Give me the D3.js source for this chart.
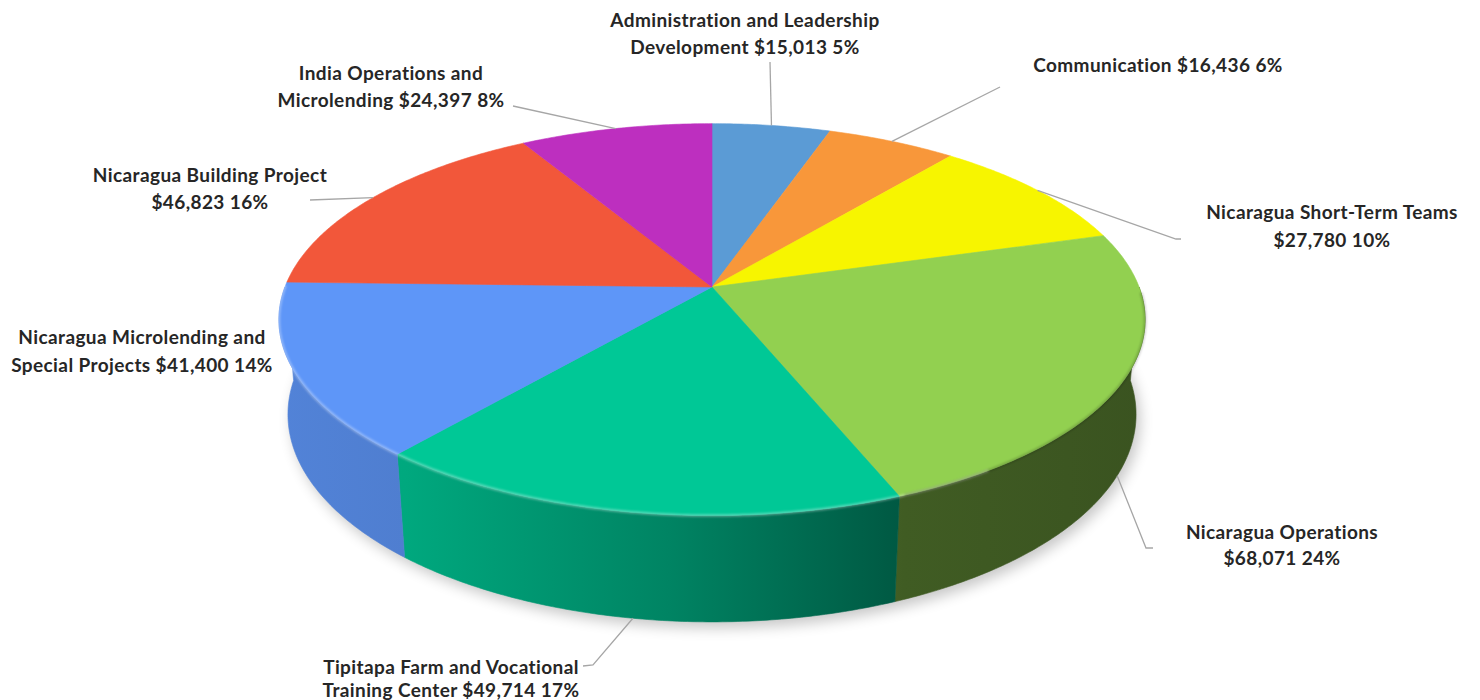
<!DOCTYPE html>
<html>
<head>
<meta charset="utf-8">
<script src="https://cdn.jsdelivr.net/npm/d3@7"></script>
<style>
  html, body { margin: 0; padding: 0; background: #ffffff; }
  svg { display: block; }
</style>
</head>
<body>
<svg id="chart" width="1480" height="700"></svg>
<script>
// ---------------- DATA ----------------
const categories = [
  "Administration and Leadership Development",
  "Communication",
  "Nicaragua Short-Term Teams",
  "Nicaragua Operations",
  "Tipitapa Farm and Vocational Training Center",
  "Nicaragua Microlending and Special Projects",
  "Nicaragua Building Project",
  "India Operations and Microlending"
];
const values = [15013, 16436, 27780, 68071, 49714, 41400, 46823, 24397];
const percentLabels = ["5%", "6%", "10%", "24%", "17%", "14%", "16%", "8%"];
const colors = ["#5b9bd5", "#f8973a", "#f7f500", "#92d050", "#00c896", "#5e96f8", "#f2573a", "#bd2fbf"];

// ---------------- LAYOUT (positions / styles, not data) ----------------
const labelLayout = [
  { words: 3,  x: 745,  y: 20,  lh: 27, leader: [[770, 62]] },
  { words: 99, x: 1158, y: 65,  lh: 27, leader: [[1000, 87]] },
  { words: 3,  x: 1332, y: 212, lh: 28, leader: [[1176, 239], [1181, 239]] },
  { words: 2,  x: 1282, y: 532, lh: 26, leader: [[1146, 548], [1153, 548]] },
  { words: 4,  x: 451,  y: 667, lh: 23, leader: [[593, 665], [583, 666]] },
  { words: 3,  x: 142,  y: 337, lh: 28, leader: null },
  { words: 3,  x: 210,  y: 175, lh: 27, leader: [[310, 200]] },
  { words: 3,  x: 391,  y: 73,  lh: 27, leader: [[513, 106]] }
];

const svg = d3.select("#chart");
const defs = svg.append("defs");

// ---------------- 3D perspective projection ----------------
const cx = 712, cy = 287;
const D = 1, R = 0.186, phi = 26.5 * Math.PI / 180, k = 2296, h = 0.0465;
const sp = Math.sin(phi), cp = Math.cos(phi);
function proj3(X, Y, Z) {
  const vx = X, vy = Y - D * sp, vz = Z - D * cp;
  const depth = -vy * sp - vz * cp;
  const up = vy * cp - vz * sp;
  return [cx + k * vx / depth, cy - k * up / depth];
}
function proj(theta, yw) {
  return proj3(R * Math.sin(theta), yw, -R * Math.cos(theta));
}
function arcPts(a0, a1, yw) {
  const n = Math.max(2, Math.ceil(Math.abs(a1 - a0) / 0.01));
  const pts = [];
  for (let i = 0; i <= n; i++) pts.push(proj(a0 + (a1 - a0) * i / n, yw));
  return pts;
}
const centerPt = proj3(0, 0, 0);

const pie = d3.pie().sort(null).startAngle(0).endAngle(2 * Math.PI).value(d => d);
const arcs = pie(values);
const fmt = d3.format("$,");
const lineGen = d3.line();

// filters
const f = defs.append("filter").attr("id", "shadow").attr("x", "-20%").attr("y", "-20%").attr("width", "140%").attr("height", "140%");
f.append("feGaussianBlur").attr("stdDeviation", 7);
const fb = defs.append("filter").attr("id", "soft").attr("x", "-10%").attr("y", "-10%").attr("width", "120%").attr("height", "120%");
fb.append("feGaussianBlur").attr("stdDeviation", 1.2);

// shadow under the pie
const bottomRing = arcPts(0, 2 * Math.PI, -h).map(p => [p[0] + 4, p[1] + 6]);
svg.append("path")
  .attr("d", lineGen(bottomRing) + "Z")
  .attr("fill", "#000").attr("opacity", 0.22)
  .attr("filter", "url(#shadow)");

// side shading gradients (light from the left)
const xLeft = proj(-Math.PI / 2, 0)[0] - 10, xRight = proj(Math.PI / 2, 0)[0] + 10;
const shadeStops = [[0, 0.87], [0.15, 0.84], [0.45, 0.66], [0.72, 0.44], [1, 0.40]];
function scaleColor(c, s) {
  const col = d3.rgb(c);
  return d3.rgb(col.r * s, col.g * s, col.b * s).toString();
}
arcs.forEach((a, i) => {
  const g = defs.append("linearGradient").attr("id", "side" + i)
    .attr("gradientUnits", "userSpaceOnUse")
    .attr("x1", xLeft).attr("x2", xRight).attr("y1", 0).attr("y2", 0);
  shadeStops.forEach(s => g.append("stop").attr("offset", s[0]).attr("stop-color", scaleColor(colors[i], s[1])));
});

// sides (front half only)
const sides = svg.append("g");
arcs.forEach((a, i) => {
  const s = Math.max(a.startAngle, Math.PI / 2), e = Math.min(a.endAngle, 3 * Math.PI / 2);
  if (s >= e) return;
  const pts = arcPts(s, e, 0).concat(arcPts(e, s, -h));
  sides.append("path")
    .attr("d", lineGen(pts) + "Z")
    .attr("fill", "url(#side" + i + ")")
    .attr("stroke", "url(#side" + i + ")").attr("stroke-width", 0.6);
});

// top faces
const tops = svg.append("g");
arcs.forEach((a, i) => {
  const pts = [centerPt].concat(arcPts(a.startAngle, a.endAngle, 0));
  tops.append("path")
    .attr("d", lineGen(pts) + "Z")
    .attr("fill", colors[i])
    .attr("stroke", colors[i]).attr("stroke-width", 0.6);
});

// rim highlight on the lit front edge, shade on the dark one
svg.append("path")
  .attr("d", lineGen(arcPts(2.55, 4.72, 0)))
  .attr("fill", "none").attr("stroke", "#ffffff").attr("stroke-opacity", 0.35)
  .attr("stroke-width", 2.5).attr("filter", "url(#soft)");
svg.append("path")
  .attr("d", lineGen(arcPts(1.6, 2.75, 0)))
  .attr("fill", "none").attr("stroke", "#000").attr("stroke-opacity", 0.18)
  .attr("stroke-width", 3).attr("filter", "url(#soft)");

// leader lines
const leaders = svg.append("g");
arcs.forEach((a, i) => {
  const L = labelLayout[i];
  if (!L.leader) return;
  const mid = (a.startAngle + a.endAngle) / 2;
  const front = mid > Math.PI / 2 && mid < 3 * Math.PI / 2;
  const anchor = proj(mid, front ? -h : 0);
  leaders.append("path")
    .attr("d", lineGen([anchor].concat(L.leader)))
    .attr("fill", "none").attr("stroke", "#a6a6a6").attr("stroke-width", 1.3);
});

// labels
const labels = svg.append("g")
  .attr("font-family", "Lato, 'Open Sans', sans-serif")
  .attr("font-weight", "bold")
  .attr("font-size", 19)
  .attr("letter-spacing", 0.4)
  .attr("fill", "#262626")
  .attr("text-anchor", "middle");
arcs.forEach((a, i) => {
  const L = labelLayout[i];
  const words = categories[i].split(" ");
  const full = words.concat([fmt(values[i]), percentLabels[i]]);
  const line1 = full.slice(0, L.words).join(" ");
  const line2 = full.slice(L.words).join(" ");
  const lines = line2 ? [line1, line2] : [line1];
  const t = labels.append("text").attr("x", L.x).attr("y", L.y);
  lines.forEach((ln, j) => {
    t.append("tspan").attr("x", L.x).attr("y", L.y + j * L.lh).attr("dy", "0.36em").text(ln);
  });
});
</script>
</body>
</html>
